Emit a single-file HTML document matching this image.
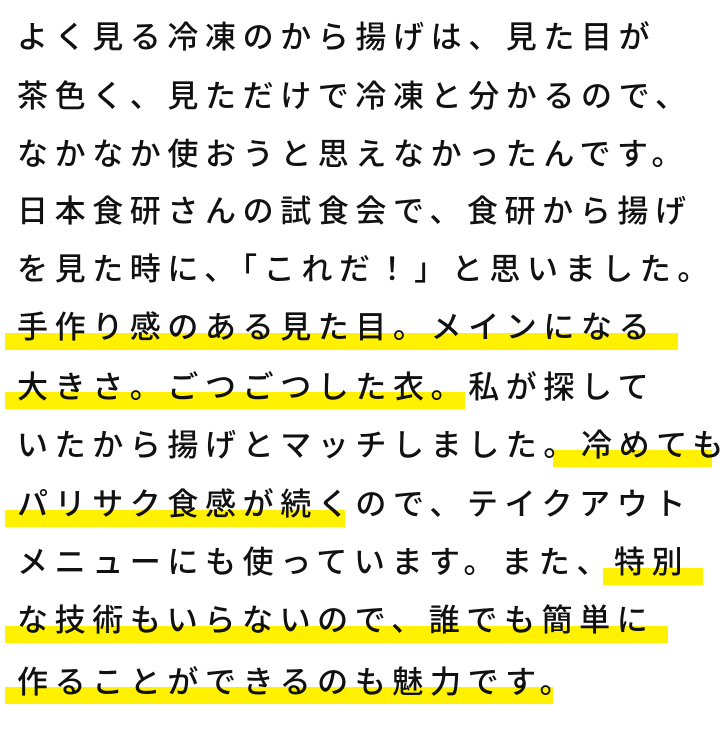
<!DOCTYPE html>
<html><head><meta charset="utf-8"><style>
html,body{margin:0;padding:0;background:#fff;}
body{width:723px;height:732px;position:relative;overflow:hidden;font-family:"Liberation Sans","Noto Sans CJK JP",sans-serif;}
.l{position:absolute;left:17px;height:40px;line-height:40px;font-size:31px;font-weight:500;letter-spacing:6.6px;color:#111;white-space:nowrap;z-index:2;}
.h{position:absolute;background:#fff100;height:17px;z-index:1;}
</style></head><body>
<div class="h" style="left:5px;width:673px;top:333px"></div>
<div class="h" style="left:5px;width:460px;top:392px"></div>
<div class="h" style="left:553px;width:159px;top:450px"></div>
<div class="h" style="left:5px;width:340px;top:510px"></div>
<div class="h" style="left:603px;width:100px;top:568px"></div>
<div class="h" style="left:5px;width:663px;top:626px"></div>
<div class="h" style="left:5px;width:548px;top:687px"></div>
<div class="l" style="top:18px">よく見る冷凍のから揚げは、見た目が</div>
<div class="l" style="top:77px">茶色く、見ただけで冷凍と分かるので、</div>
<div class="l" style="top:135px">なかなか使おうと思えなかったんです。</div>
<div class="l" style="top:192px">日本食研さんの試食会で、食研から揚げ</div>
<div class="l" style="top:250px">を見た時に、「これだ！」と思いました。</div>
<div class="l" style="top:308px">手作り感のある見た目。メインになる</div>
<div class="l" style="top:368px">大きさ。ごつごつした衣。私が探して</div>
<div class="l" style="top:426px">いたから揚げとマッチしました。冷めても</div>
<div class="l" style="top:485px">パリサク食感が続くので、テイクアウト</div>
<div class="l" style="top:543px">メニューにも使っています。また、特別</div>
<div class="l" style="top:601px">な技術もいらないので、誰でも簡単に</div>
<div class="l" style="top:663px">作ることができるのも魅力です。</div>
</body></html>
